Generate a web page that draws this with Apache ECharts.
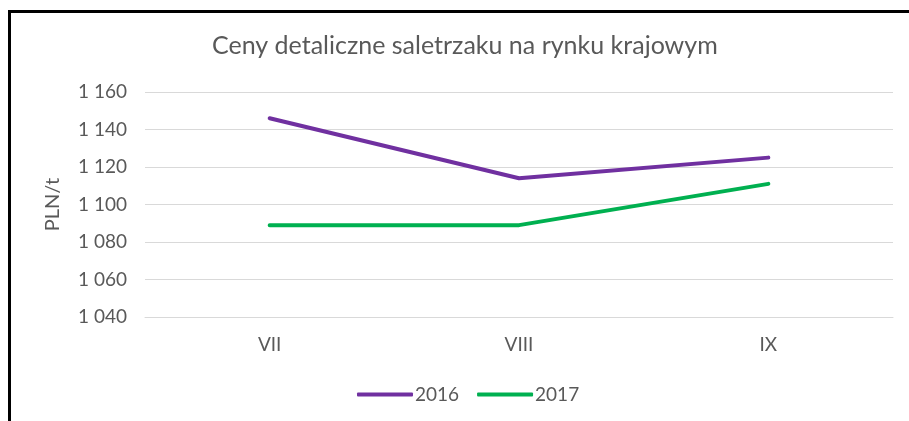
<!DOCTYPE html>
<html>
<head>
<meta charset="utf-8">
<script src="https://cdn.jsdelivr.net/npm/echarts@6/dist/echarts.min.js"></script>
<style>
html,body{margin:0;padding:0;background:#fff;}
#chart{width:909px;height:421px;}
</style>
</head>
<body>
<div id="chart"></div>
<script>
const categories = ['VII', 'VIII', 'IX'];
const series2016 = [1146, 1114, 1125];
const series2017 = [1089, 1089, 1111];
const seriesNames = ['2016', '2017'];
const titleText = 'Ceny detaliczne saletrzaku na rynku krajowym';
const yName = 'PLN/t';

const chart = echarts.init(document.getElementById('chart'));
const fontFam = 'Lato, "Open Sans", sans-serif';
const txt = '#595959';
chart.setOption({
  animation: false,
  title: {
    text: titleText,
    left: 207,
    top: 28,
    textStyle: { fontFamily: fontFam, fontSize: 25, fontWeight: 'normal', color: txt }
  },
  graphic: [
    { type: 'line', shape: { x1: 9.5, y1: 11.5, x2: 9.5, y2: 421 }, style: { stroke: '#000', lineWidth: 3 } },
    { type: 'line', shape: { x1: 8, y1: 11.5, x2: 909, y2: 11.5 }, style: { stroke: '#000', lineWidth: 3 } }
  ],
  grid: { left: 145, right: 16, top: 92, bottom: 104 },
  legend: {
    data: seriesNames,
    left: 352,
    top: 380,
    itemWidth: 56,
    itemHeight: 4,
    itemGap: 18,
    icon: 'roundRect',
    textStyle: { fontFamily: fontFam, fontSize: 19, color: txt, padding: [0, 0, 0, -3] }
  },
  xAxis: {
    type: 'category',
    data: categories,
    boundaryGap: true,
    axisLine: { show: true, lineStyle: { color: '#d9d9d9', width: 1 } },
    axisTick: { show: false },
    axisLabel: { fontFamily: fontFam, fontSize: 19, color: txt, margin: 18 }
  },
  yAxis: {
    type: 'value',
    min: 1040,
    max: 1160,
    interval: 20,
    name: yName,
    nameLocation: 'middle',
    nameGap: 82,
    nameTextStyle: { fontFamily: fontFam, fontSize: 20, color: txt },
    axisLine: { show: false },
    axisTick: { show: false },
    splitLine: { lineStyle: { color: '#d9d9d9', width: 1 } },
    axisLabel: {
      fontFamily: fontFam, fontSize: 19, color: txt, margin: 18,
      formatter: v => { const s = String(v); return s.length > 3 ? s.slice(0, s.length - 3) + ' ' + s.slice(-3) : s; }
    }
  },
  series: [
    { name: seriesNames[0], type: 'line', data: series2016, symbol: 'none', lineStyle: { color: '#7030A0', width: 4, cap: 'round' }, itemStyle: { color: '#7030A0' } },
    { name: seriesNames[1], type: 'line', data: series2017, symbol: 'none', lineStyle: { color: '#00B050', width: 4, cap: 'round' }, itemStyle: { color: '#00B050' } }
  ]
});
</script>
</body>
</html>
